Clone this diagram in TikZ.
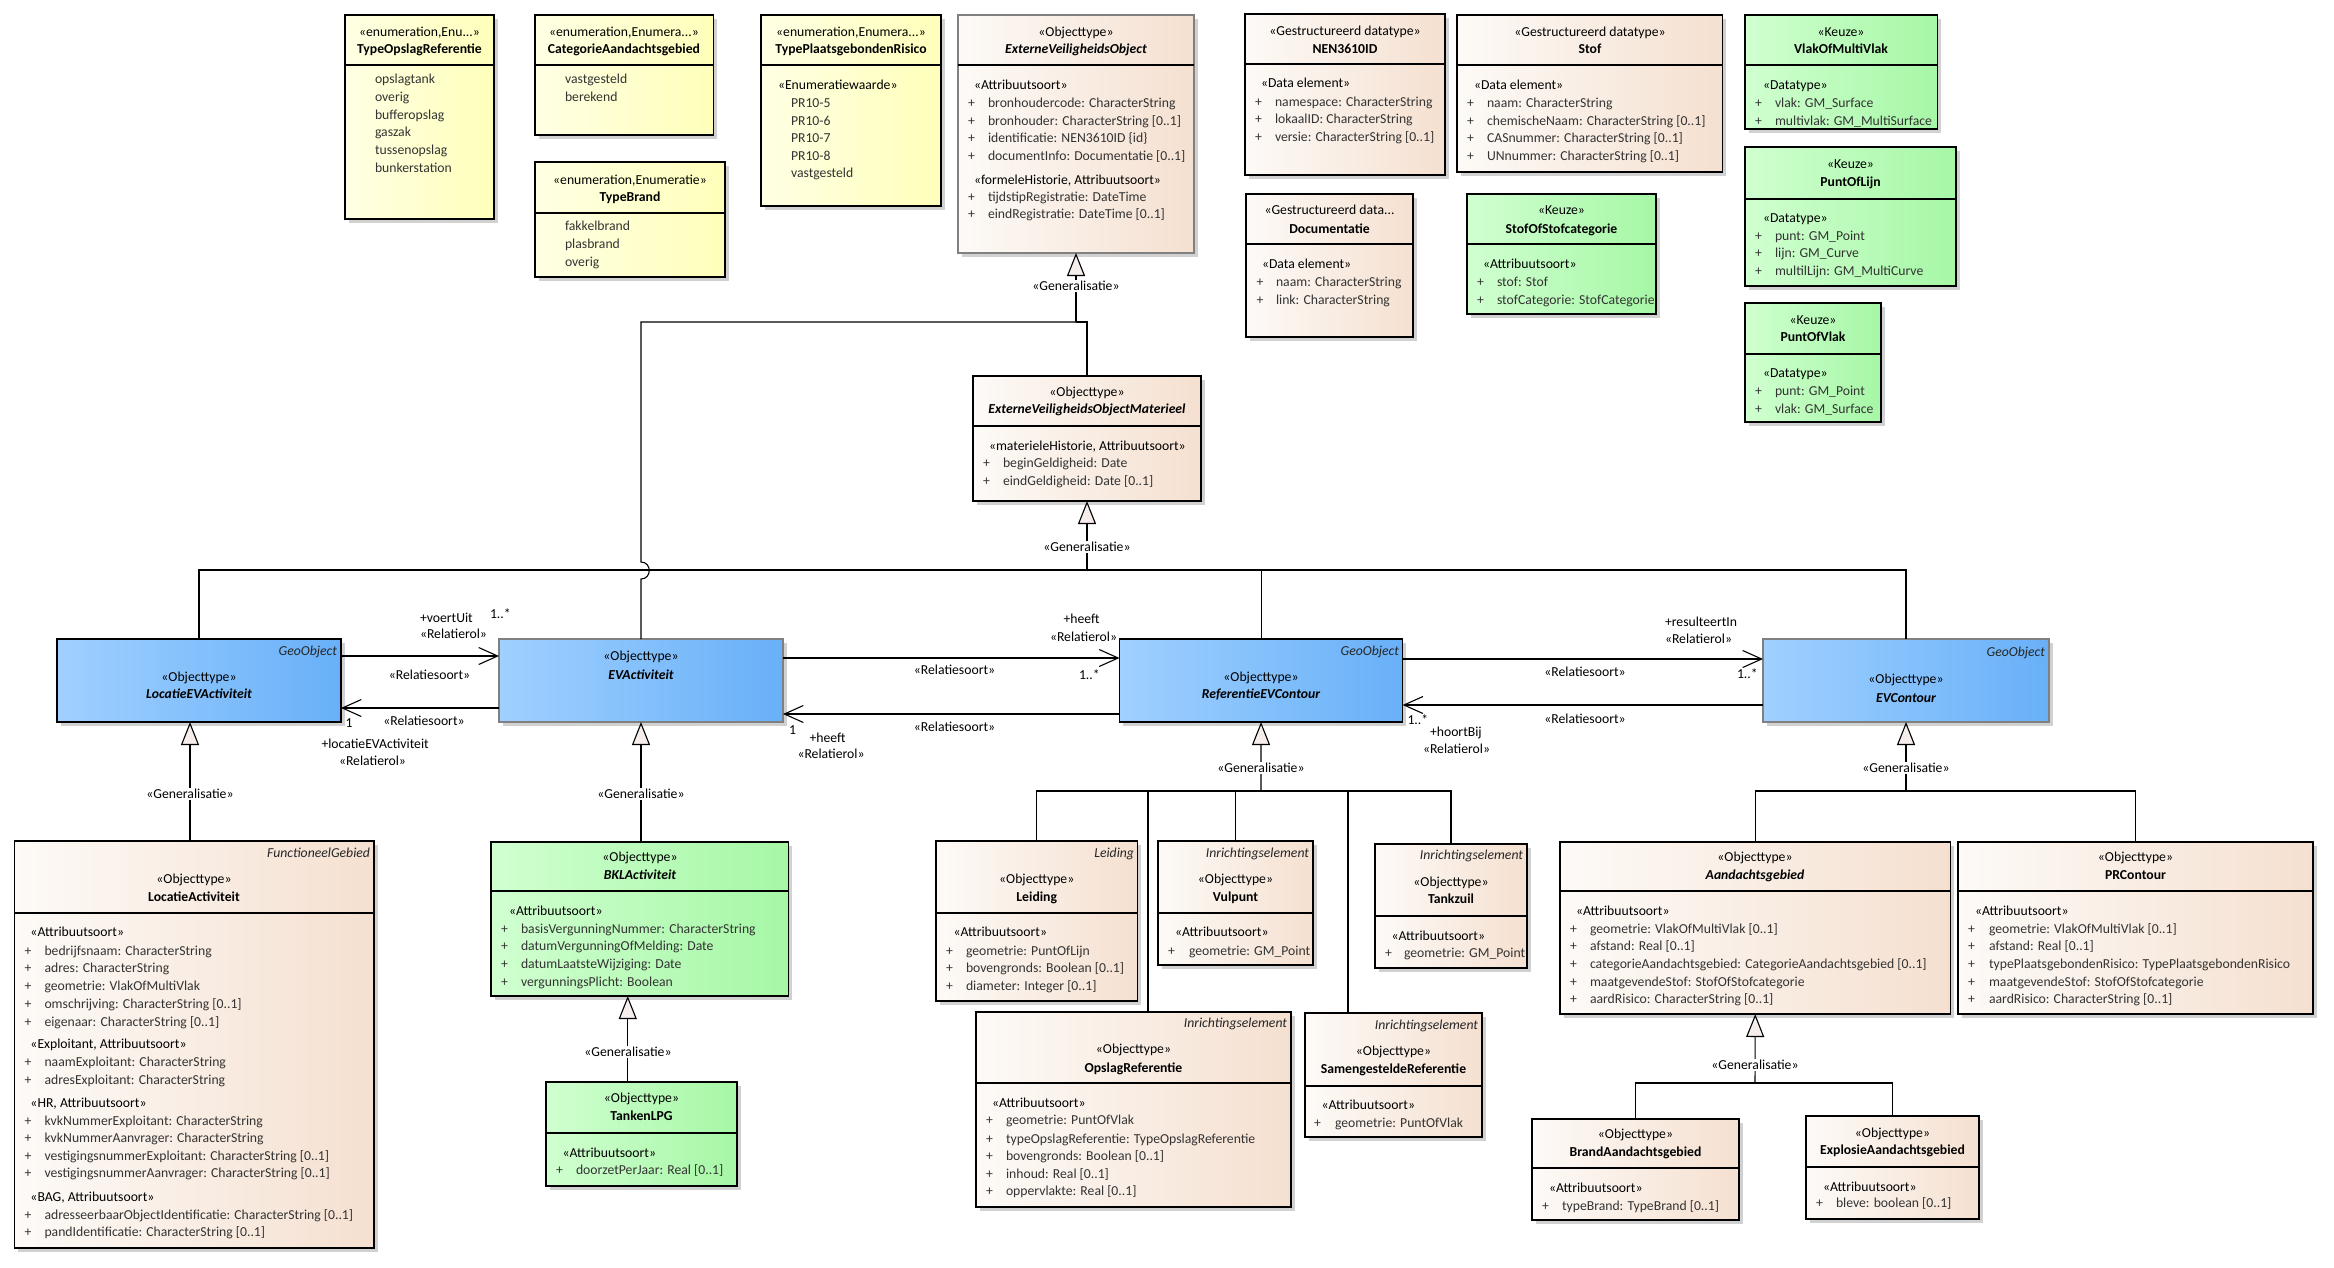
\documentclass[tikz,border=0pt]{standalone}
\usepackage{fontspec}
\setmainfont{Carlito}
\usetikzlibrary{arrows.meta,shadows,calc}
\definecolor{yell}{RGB}{255,255,228}
\definecolor{yelr}{RGB}{255,255,186}
\definecolor{peachl}{RGB}{253,250,247}
\definecolor{peachr}{RGB}{245,224,208}
\definecolor{greenl}{RGB}{208,255,208}
\definecolor{greenr}{RGB}{166,247,166}
\definecolor{bluel}{RGB}{160,208,255}
\definecolor{bluer}{RGB}{104,176,248}
\definecolor{trifill}{RGB}{246,238,236}
\tikzset{
  tx/.style={inner sep=0pt, outer sep=0pt, text height=10pt, text depth=2pt, font=\fontsize{13.7}{16}\selectfont, text=black},
  attr/.style={text=black!80},
  nm/.style={font=\fontsize{13.7}{16}\selectfont\bfseries},
  nmi/.style={font=\fontsize{13.7}{16}\selectfont\bfseries\itshape},
  it/.style={font=\fontsize{13.7}{16}\selectfont\itshape, text=black!85},
  genl/.style={fill=white, inner xsep=1pt},
  ubase/.style={draw=black, line width=1.3pt, inner sep=0pt, outer sep=0pt, anchor=north west,
     drop shadow={shadow xshift=3.5pt, shadow yshift=-3.5pt, fill=black!18, opacity=1}},
  enumbox/.style={ubase, left color=yell, right color=yelr},
  objbox/.style={ubase, left color=peachl, right color=peachr},
  keuzebox/.style={ubase, left color=greenl, right color=greenr},
  bluebox/.style={ubase, left color=bluel, right color=bluer},
  grayb/.style={draw=black!50},
  sepline/.style={draw=black, line width=1.3pt},
  conn/.style={draw=black, line width=1.1pt},
  assoc/.style={conn, -{Straight Barb[length=19pt,width=17pt]}},
  genarrow/.style={conn, -{Triangle[length=23pt,width=18pt,fill=trifill]}}
}
\newcounter{tn}
\newcommand\ubox[6]{\pgfmathsetmacro\bw{#5-#3}\pgfmathsetmacro\bh{#6-#4}%
  \node[#2, minimum width=\bw pt, minimum height=\bh pt] (#1) at (#3,#4) {};}
\newcommand\usep[2]{\draw[sepline] ([yshift=-#2pt]#1.north west) -- ([yshift=-#2pt]#1.north east);}
\newcommand\TL[4][]{\stepcounter{tn}\node[tx,anchor=west,#1] (tx\arabic{tn}) at (#2,#3) {#4};}
\newcommand\TC[4][]{\stepcounter{tn}\node[tx,anchor=center,#1] (tx\arabic{tn}) at (#2,#3) {#4};}
\newcommand\TR[4][]{\stepcounter{tn}\node[tx,anchor=east,#1] (tx\arabic{tn}) at (#2,#3) {#4};}
\newcommand\AT[4]{\TL[attr]{#1}{#3}{+}\TL[attr]{#2}{#3}{#4}}
\begin{document}
\begin{tikzpicture}[x=1pt,y=-1pt]
\useasboundingbox (0,0) rectangle (2334,1267);
\fill[white] (0,0) rectangle (2334,1267);

% ---------- boxes ----------
\ubox{topr}{enumbox}{345}{15}{494}{219}\usep{topr}{50}
\ubox{cag}{enumbox}{535}{15}{713.5}{135}\usep{cag}{50}
\ubox{tb}{enumbox}{535}{162}{725}{277}\usep{tb}{51}
\ubox{tpr}{enumbox}{761}{15}{941}{206}\usep{tpr}{50}
\ubox{evo}{objbox,grayb}{958}{15}{1194}{253}\usep{evo}{50}
\ubox{evom}{objbox}{973}{376}{1201}{501}\usep{evom}{50}
\ubox{nen}{objbox}{1245}{14}{1445}{175}\usep{nen}{50}
\ubox{stof}{objbox}{1457}{15}{1722.5}{172}\usep{stof}{50}
\ubox{doc}{objbox}{1246}{194}{1413}{337}\usep{doc}{50}
\ubox{sos}{keuzebox}{1467}{194}{1656}{314}\usep{sos}{50}
\ubox{vomv}{keuzebox}{1745}{15}{1937.5}{129}\usep{vomv}{50}
\ubox{pol}{keuzebox}{1745}{147}{1956}{286}\usep{pol}{52}
\ubox{pov}{keuzebox}{1745}{303}{1881}{422}\usep{pov}{51}
\ubox{lea}{bluebox}{57}{639}{341}{722}
\ubox{eva}{bluebox,grayb}{499}{639}{783}{722}
\ubox{refevc}{bluebox}{1119.5}{639}{1402.6}{722}
\ubox{evc}{bluebox,grayb}{1763}{639}{2049}{722}
\ubox{la}{objbox}{14.5}{841}{374}{1248}\usep{la}{72}
\ubox{bkl}{keuzebox}{491}{842}{788.5}{996}\usep{bkl}{49}
\ubox{lpg}{keuzebox}{546}{1082}{737}{1186}\usep{lpg}{51}
\ubox{lei}{objbox}{936}{841}{1137.5}{1001}\usep{lei}{72}
\ubox{opr}{objbox}{976}{1012}{1291}{1207}\usep{opr}{71}
\ubox{vul}{objbox}{1158}{841}{1313}{965}\usep{vul}{72}
\ubox{tz}{objbox}{1375}{844}{1527}{968}\usep{tz}{72}
\ubox{sr}{objbox}{1305}{1013}{1482}{1137}\usep{sr}{73}
\ubox{ag}{objbox}{1560}{842}{1950.5}{1014}\usep{ag}{49}
\ubox{prc}{objbox}{1958}{842}{2313}{1014}\usep{prc}{49}
\ubox{bag}{objbox}{1532}{1119}{1739}{1220}\usep{bag}{49}
\ubox{eag}{objbox}{1806}{1116}{1979}{1219}\usep{eag}{51}

% ---------- box texts ----------
\TC{419.5}{32}{«enumeration,Enu...»}
\TC[nm]{419.5}{49}{TypeOpslagReferentie}
\TL[attr]{375}{79}{opslagtank}
\TL[attr]{375}{97}{overig}
\TL[attr]{375}{115}{bufferopslag}
\TL[attr]{375}{132}{gaszak}
\TL[attr]{375}{150}{tussenopslag}
\TL[attr]{375}{168}{bunkerstation}

\TC{624}{32}{«enumeration,Enumera...»}
\TC[nm]{624}{49}{CategorieAandachtsgebied}
\TL[attr]{565}{79}{vastgesteld}
\TL[attr]{565}{97}{berekend}

\TC{630}{180}{«enumeration,Enumeratie»}
\TC[nm]{630}{197}{TypeBrand}
\TL[attr]{565}{226}{fakkelbrand}
\TL[attr]{565}{244}{plasbrand}
\TL[attr]{565}{262}{overig}

\TC{851}{32}{«enumeration,Enumera...»}
\TC[nm]{851}{49}{TypePlaatsgebondenRisico}
\TL{778}{85}{«Enumeratiewaarde»}
\TL[attr]{791}{103}{PR10-5}
\TL[attr]{791}{121}{PR10-6}
\TL[attr]{791}{138}{PR10-7}
\TL[attr]{791}{156}{PR10-8}
\TL[attr]{791}{173}{vastgesteld}

\TC{1076}{32}{«Objecttype»}
\TC[nmi]{1076}{49}{ExterneVeiligheidsObject}
\TL{974}{85}{«Attribuutsoort»}
\AT{968}{988}{103}{bronhoudercode: CharacterString}
\AT{968}{988}{121}{bronhouder: CharacterString [0..1]}
\AT{968}{988}{138}{identificatie: NEN3610ID \{id\}}
\AT{968}{988}{156}{documentInfo: Documentatie [0..1]}
\TL{974}{180}{«formeleHistorie, Attribuutsoort»}
\AT{968}{988}{197}{tijdstipRegistratie: DateTime}
\AT{968}{988}{214}{eindRegistratie: DateTime [0..1]}

\TC{1087}{392}{«Objecttype»}
\TC[nmi]{1087}{409}{ExterneVeiligheidsObjectMaterieel}
\TL{989}{446}{«materieleHistorie, Attribuutsoort»}
\AT{983}{1003}{463}{beginGeldigheid: Date}
\AT{983}{1003}{481}{eindGeldigheid: Date [0..1]}

\TC{1345}{31}{«Gestructureerd datatype»}
\TC[nm]{1345}{49}{NEN3610ID}
\TL{1261}{83}{«Data element»}
\AT{1255}{1275}{102}{namespace: CharacterString}
\AT{1255}{1275}{119}{lokaalID: CharacterString}
\AT{1255}{1275}{137}{versie: CharacterString [0..1]}

\TC{1590}{32}{«Gestructureerd datatype»}
\TC[nm]{1590}{49}{Stof}
\TL{1474}{85}{«Data element»}
\AT{1467}{1487}{103}{naam: CharacterString}
\AT{1467}{1487}{121}{chemischeNaam: CharacterString [0..1]}
\AT{1467}{1487}{138}{CASnummer: CharacterString [0..1]}
\AT{1467}{1487}{156}{UNnummer: CharacterString [0..1]}

\TC{1329.5}{210}{«Gestructureerd data...}
\TC[nm]{1329.5}{229}{Documentatie}
\TL{1262}{264}{«Data element»}
\AT{1256.5}{1276}{282}{naam: CharacterString}
\AT{1256.5}{1276}{300}{link: CharacterString}

\TC{1561.5}{210}{«Keuze»}
\TC[nm]{1561.5}{229}{StofOfStofcategorie}
\TL{1483}{264}{«Attribuutsoort»}
\AT{1477}{1497}{282}{stof: Stof}
\AT{1477}{1497}{300}{stofCategorie: StofCategorie}

\TC{1841}{32}{«Keuze»}
\TC[nm]{1841}{49}{VlakOfMultiVlak}
\TL{1763}{85}{«Datatype»}
\AT{1755}{1775}{103}{vlak: GM\_Surface}
\AT{1755}{1775}{121}{multivlak: GM\_MultiSurface}

\TC{1850.5}{164}{«Keuze»}
\TC[nm]{1850.5}{182}{PuntOfLijn}
\TL{1763}{218}{«Datatype»}
\AT{1755}{1775}{236}{punt: GM\_Point}
\AT{1755}{1775}{253}{lijn: GM\_Curve}
\AT{1755}{1775}{271}{multilLijn: GM\_MultiCurve}

\TC{1813}{320}{«Keuze»}
\TC[nm]{1813}{337}{PuntOfVlak}
\TL{1763}{373}{«Datatype»}
\AT{1755}{1775}{391}{punt: GM\_Point}
\AT{1755}{1775}{409}{vlak: GM\_Surface}

\TR[it]{337}{651}{GeoObject}
\TC{199}{677}{«Objecttype»}
\TC[nmi]{199}{694}{LocatieEVActiviteit}

\TC{641}{656}{«Objecttype»}
\TC[nmi]{641}{675}{EVActiviteit}

\TR[it]{1399}{651}{GeoObject}
\TC{1261}{677}{«Objecttype»}
\TC[nmi]{1261}{694}{ReferentieEVContour}

\TR[it]{2045}{652}{GeoObject}
\TC{1906}{679}{«Objecttype»}
\TC[nmi]{1906}{698}{EVContour}

\TR[it]{370}{853}{FunctioneelGebied}
\TC{194}{879}{«Objecttype»}
\TC[nm]{194}{897}{LocatieActiviteit}
\TL{30.5}{932}{«Attribuutsoort»}
\AT{24.5}{44.5}{951}{bedrijfsnaam: CharacterString}
\AT{24.5}{44.5}{968}{adres: CharacterString}
\AT{24.5}{44.5}{986}{geometrie: VlakOfMultiVlak}
\AT{24.5}{44.5}{1004}{omschrijving: CharacterString [0..1]}
\AT{24.5}{44.5}{1022}{eigenaar: CharacterString [0..1]}
\TL{30.5}{1044}{«Exploitant, Attribuutsoort»}
\AT{24.5}{44.5}{1062}{naamExploitant: CharacterString}
\AT{24.5}{44.5}{1080}{adresExploitant: CharacterString}
\TL{30.5}{1103}{«HR, Attribuutsoort»}
\AT{24.5}{44.5}{1121}{kvkNummerExploitant: CharacterString}
\AT{24.5}{44.5}{1138}{kvkNummerAanvrager: CharacterString}
\AT{24.5}{44.5}{1156}{vestigingsnummerExploitant: CharacterString [0..1]}
\AT{24.5}{44.5}{1173}{vestigingsnummerAanvrager: CharacterString [0..1]}
\TL{30.5}{1197}{«BAG, Attribuutsoort»}
\AT{24.5}{44.5}{1215}{adresseerbaarObjectIdentificatie: CharacterString [0..1]}
\AT{24.5}{44.5}{1232}{pandIdentificatie: CharacterString [0..1]}

\TC{640}{857}{«Objecttype»}
\TC[nmi]{640}{875}{BKLActiviteit}
\TL{509}{911}{«Attribuutsoort»}
\AT{501}{521}{929}{basisVergunningNummer: CharacterString}
\AT{501}{521}{946}{datumVergunningOfMelding: Date}
\AT{501}{521}{964}{datumLaatsteWijziging: Date}
\AT{501}{521}{982}{vergunningsPlicht: Boolean}

\TC{641.5}{1098}{«Objecttype»}
\TC[nm]{641.5}{1116}{TankenLPG}
\TL{562.5}{1153}{«Attribuutsoort»}
\AT{556}{576}{1170}{doorzetPerJaar: Real [0..1]}

\TR[it]{1134}{853}{Leiding}
\TC{1036.75}{879}{«Objecttype»}
\TC[nm]{1036.75}{897}{Leiding}
\TL{953.5}{932}{«Attribuutsoort»}
\AT{946}{966}{951}{geometrie: PuntOfLijn}
\AT{946}{966}{968}{bovengronds: Boolean [0..1]}
\AT{946}{966}{986}{diameter: Integer [0..1]}

\TR[it]{1287}{1023}{Inrichtingselement}
\TC{1133.5}{1049}{«Objecttype»}
\TC[nm]{1133.5}{1068}{OpslagReferentie}
\TL{992}{1103}{«Attribuutsoort»}
\AT{986}{1006}{1120}{geometrie: PuntOfVlak}
\AT{986}{1006}{1139}{typeOpslagReferentie: TypeOpslagReferentie}
\AT{986}{1006}{1156}{bovengronds: Boolean [0..1]}
\AT{986}{1006}{1174}{inhoud: Real [0..1]}
\AT{986}{1006}{1191}{oppervlakte: Real [0..1]}

\TR[it]{1309}{853}{Inrichtingselement}
\TC{1235.5}{879}{«Objecttype»}
\TC[nm]{1235.5}{897}{Vulpunt}
\TL{1175}{932}{«Attribuutsoort»}
\AT{1168}{1189}{951}{geometrie: GM\_Point}

\TR[it]{1523}{855}{Inrichtingselement}
\TC{1451}{882}{«Objecttype»}
\TC[nm]{1451}{899}{Tankzuil}
\TL{1391.5}{936}{«Attribuutsoort»}
\AT{1385}{1404}{953}{geometrie: GM\_Point}

\TR[it]{1478}{1025}{Inrichtingselement}
\TC{1393.5}{1051}{«Objecttype»}
\TC[nm]{1393.5}{1069}{SamengesteldeReferentie}
\TL{1321.5}{1105}{«Attribuutsoort»}
\AT{1314}{1335}{1123}{geometrie: PuntOfVlak}

\TC{1755}{857}{«Objecttype»}
\TC[nmi]{1755}{875}{Aandachtsgebied}
\TL{1576}{911}{«Attribuutsoort»}
\AT{1570}{1590}{929}{geometrie: VlakOfMultiVlak [0..1]}
\AT{1570}{1590}{946}{afstand: Real [0..1]}
\AT{1570}{1590}{964}{categorieAandachtsgebied: CategorieAandachtsgebied [0..1]}
\AT{1570}{1590}{982}{maatgevendeStof: StofOfStofcategorie}
\AT{1570}{1590}{999}{aardRisico: CharacterString [0..1]}

\TC{2135.5}{857}{«Objecttype»}
\TC[nm]{2135.5}{875}{PRContour}
\TL{1975}{911}{«Attribuutsoort»}
\AT{1968}{1989}{929}{geometrie: VlakOfMultiVlak [0..1]}
\AT{1968}{1989}{946}{afstand: Real [0..1]}
\AT{1968}{1989}{964}{typePlaatsgebondenRisico: TypePlaatsgebondenRisico}
\AT{1968}{1989}{982}{maatgevendeStof: StofOfStofcategorie}
\AT{1968}{1989}{999}{aardRisico: CharacterString [0..1]}

\TC{1635.5}{1134}{«Objecttype»}
\TC[nm]{1635.5}{1152}{BrandAandachtsgebied}
\TL{1549}{1188}{«Attribuutsoort»}
\AT{1542}{1562}{1206}{typeBrand: TypeBrand [0..1]}

\TC{1892.5}{1133}{«Objecttype»}
\TC[nm]{1892.5}{1150}{ExplosieAandachtsgebied}
\TL{1823}{1187}{«Attribuutsoort»}
\AT{1816}{1836}{1203}{bleve: boolean [0..1]}

% ---------- generalisation trees ----------
\coordinate (j1) at (1076,322);
\coordinate (j2) at (1087,570);
\coordinate (j3) at (1261,791);
\coordinate (j4) at (1906,791);
\coordinate (j5) at (1755,1083);

\draw[conn] (evom.north) |- (j1);
\draw[conn] (eva.north) -- ++(0,-60) .. controls +(11,0) and +(11,0) .. ++(0,-17) |- (j1);
\draw[genarrow] (j1) -- (evo.south);

\draw[conn] (lea.north) |- (j2);
\draw[conn] (refevc.north) |- (j2);
\draw[conn] (evc.north) |- (j2);
\draw[genarrow] (j2) -- (evom.south);

\draw[genarrow] ($(lea.south |- la.north)+(-9,0)$) -- ($(lea.south)+(-9,0)$);
\draw[genarrow] (eva.south |- bkl.north) -- (eva.south);
\draw[genarrow] ($(bkl.south |- lpg.north)+(-12,0)$) -- ($(bkl.south)+(-12,0)$);

\draw[conn] (lei.north) |- (j3);
\draw[conn] ($(opr.north)+(14.5,0)$) |- (j3);
\draw[conn] (vul.north) |- (j3);
\draw[conn] ($(sr.north)+(-45.5,0)$) |- (j3);
\draw[conn] (tz.north) |- (j3);
\draw[genarrow] (j3) -- (refevc.south);

\draw[conn] (ag.north) |- (j4);
\draw[conn] (prc.north) |- (j4);
\draw[genarrow] (j4) -- (evc.south);

\draw[conn] (bag.north) |- (j5);
\draw[conn] (eag.north) |- (j5);
\draw[genarrow] (j5) -- (ag.south);

\TC[genl]{1076}{286}{«Generalisatie»}
\TC[genl]{1087}{547}{«Generalisatie»}
\TC[genl]{190}{794}{«Generalisatie»}
\TC[genl]{641}{794}{«Generalisatie»}
\TC[genl]{628}{1052}{«Generalisatie»}
\TC[genl]{1261}{768}{«Generalisatie»}
\TC[genl]{1906}{768}{«Generalisatie»}
\TC[genl]{1755}{1065}{«Generalisatie»}

% ---------- associations ----------
\draw[assoc] ($(lea.north east)+(0,17)$) -- ($(eva.north west)+(0,17)$);
\draw[assoc] ($(eva.south west)+(0,-14)$) -- ($(lea.south east)+(0,-14)$);
\draw[assoc] ($(eva.north east)+(0,19)$) -- ($(refevc.north west)+(0,19)$);
\draw[assoc] ($(refevc.south west)+(0,-8)$) -- ($(eva.south east)+(0,-8)$);
\draw[assoc] ($(refevc.north east)+(0,20)$) -- ($(evc.north west)+(0,20)$);
\draw[assoc] ($(evc.south west)+(0,-17)$) -- ($(refevc.south east)+(0,-17)$);

\TL{420}{618}{+voertUit}
\TL{420}{634}{«Relatierol»}
\TL{490}{614}{1..*}
\TC{429.5}{675}{«Relatiesoort»}
\TC{424}{721}{«Relatiesoort»}
\TL{345.5}{723}{1}
\TL{321.5}{744}{+locatieEVActiviteit}
\TC{372.5}{761}{«Relatierol»}

\TC{1081.5}{619}{+heeft}
\TC{1083.5}{637}{«Relatierol»}
\TC{954.5}{670}{«Relatiesoort»}
\TL{1079}{675}{1..*}
\TL{789}{730}{1}
\TC{827.5}{738}{+heeft}
\TC{831}{754}{«Relatierol»}
\TC{954.5}{727}{«Relatiesoort»}

\TL{1665}{622}{+resulteertIn}
\TL{1665}{639}{«Relatierol»}
\TC{1585}{672}{«Relatiesoort»}
\TL{1737}{674}{1..*}
\TL{1407.5}{720}{1..*}
\TL{1430}{732}{+hoortBij}
\TL{1423}{749}{«Relatierol»}
\TC{1585}{719}{«Relatiesoort»}
\end{tikzpicture}
\end{document}
